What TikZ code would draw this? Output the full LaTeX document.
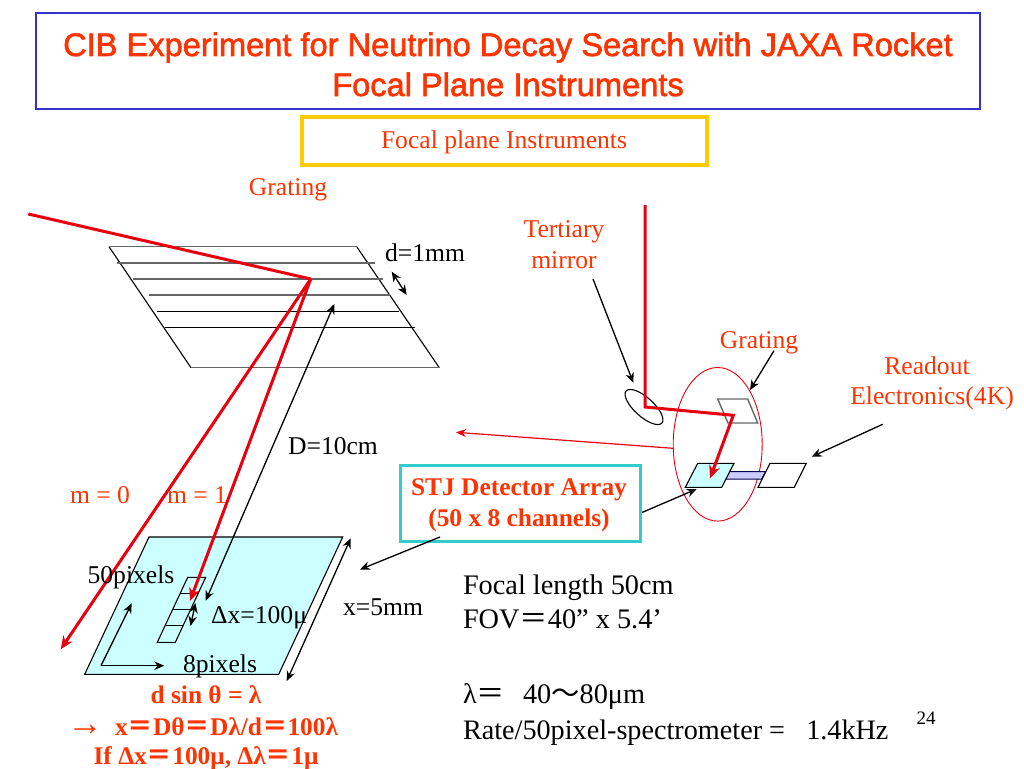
\documentclass[tikz,border=0pt]{standalone}
\usepackage{fontspec}
\setmainfont{Liberation Serif}
\newfontfamily\titlefont[FakeBold=1.8]{Liberation Sans}
\newfontfamily\cjk{Noto Sans CJK JP}
\usetikzlibrary{arrows.meta}
\definecolor{txtred}{HTML}{FF3300}
\definecolor{beam}{HTML}{E8000F}
\definecolor{paleCyan}{HTML}{CCFFFF}
\definecolor{paleBlue}{HTML}{CCCCFF}
\definecolor{titleBlue}{HTML}{3333CC}
\definecolor{gold}{HTML}{FFCC00}
\definecolor{tealbox}{HTML}{33CCCC}
\definecolor{rulegray}{HTML}{666666}
\newcommand{\fw}[1]{{\cjk #1}}
\tikzset{
  x=1pt,y=-1pt,
  lbl/.style={inner sep=0pt,outer sep=0pt,anchor=base,font=\fontsize{25.6}{25.6}\selectfont,align=center},
  lblw/.style={lbl,anchor=base west},
  redlbl/.style={lbl,text=txtred},
  boldred/.style={lbl,text=txtred,font=\fontsize{25.4}{25.4}\selectfont\bfseries},
  titletext/.style={lbl,text=txtred,font=\fontsize{32.6}{32.6}\titlefont},
  thin line/.style={draw=black,line width=1.1pt},
  gray line/.style={draw=rulegray,line width=1.4pt},
  beamline/.style={draw=beam,line width=3pt,line join=miter},
  beamarrow/.style={beamline,-{Stealth[length=13pt,width=11pt]}},
  blackarrow/.style={draw=black,line width=1.3pt,-{Stealth[length=10pt,width=8.5pt]}},
  blackdouble/.style={draw=black,line width=1.3pt,{Stealth[length=10pt,width=8.5pt]}-{Stealth[length=10pt,width=8.5pt]}},
}
\begin{document}
\begin{tikzpicture}
\useasboundingbox (0,0) rectangle (1024,768);
\fill[white] (0,0) rectangle (1024,768);

% header boxes
\draw[draw=titleBlue,line width=2.8pt] (36,13) rectangle (980,109);
\node[titletext] (title1) at (508,56) {CIB Experiment for Neutrino Decay Search with JAXA Rocket};
\node[titletext] (title2) at (508,96) {Focal Plane Instruments};
\draw[draw=gold,line width=4.5pt] (302,117) rectangle (707,165);
\node[redlbl] (fpi) at (504,148) {Focal plane Instruments};

% large grating
\coordinate (gTL) at (109,246.7);
\coordinate (gTR) at (356.7,246.7);
\coordinate (gBR) at (439.3,367.7);
\coordinate (gBL) at (191,367.7);
\draw[thin line] (gTL) -- (gBL);
\draw[thin line] (gTR) -- (gBR);
\draw[gray line] (gTL) -- (gTR);
\draw[gray line] (gBL) -- (gBR);
\draw[gray line] (116.7,263) -- (375,263);
\draw[gray line] (133,279) -- (382.7,279);
\draw[gray line] (149,295) -- (390,295);
\draw[thin line] (156.7,311.3) -- (399,311.3);
\draw[thin line] (165,327.3) -- (415,327.3);

% detector plane
\coordinate (pTL) at (149,537);
\coordinate (pTR) at (342.7,537);
\coordinate (pBR) at (278.7,674.3);
\coordinate (pBL) at (84.7,674.3);
\draw[thin line,fill=paleCyan] (pTL) -- (pTR) -- (pBR) -- (pBL) -- cycle;

% pixels
\draw[thin line] (187.7,577.3) -- (205.7,577.3) -- (175.3,642.3) -- (157.3,642.3) -- cycle;
\draw[thin line] (180,593.3) -- (198.3,593.3);
\draw[thin line] (172.7,609.3) -- (191,609.3);
\draw[thin line] (165.7,625.7) -- (183.3,625.7);

% beams
\coordinate (inA) at (28.3,214);
\coordinate (hit) at (310.7,279);
\coordinate (m0end) at (60.7,649.3);
\coordinate (m1end) at (190,601);
\draw[beamline] (inA) -- (hit);
\draw[beamarrow] (hit) -- (m0end);
\draw[beamarrow] (hit) -- (m1end);

% dimension arrows
\coordinate (dA) at (391.7,271.7);
\coordinate (dB) at (406.7,295);
\draw[blackdouble] (dA) -- (dB);
\coordinate (DA) at (334.3,304);
\coordinate (DB) at (205.7,600.7);
\draw[blackdouble] (DA) -- (DB);
\coordinate (xA) at (350.7,538.3);
\coordinate (xB) at (286.7,681);
\draw[blackdouble] (xA) -- (xB);
\coordinate (dxA) at (195.5,603);
\coordinate (dxB) at (190.5,626);
\draw[blackdouble] (dxA) -- (dxB);
\coordinate (cor) at (101,665.7);
\coordinate (upEnd) at (131.7,603.3);
\coordinate (rtEnd) at (164.3,665.7);
\draw[blackarrow] (cor) -- (upEnd);
\draw[blackarrow] (cor) -- (rtEnd);

% left labels
\node[redlbl] (lgrating) at (288,195) {Grating};
\node[lbl] (ld) at (425,261) {d=1mm};
\node[lbl] (lD) at (333,454) {D=10cm};
\node[redlbl] (lm0) at (100,503) {m = 0};
\node[redlbl] (lm1) at (197,503) {m = 1};
\node[lbl] (l50) at (131,583) {50pixels};
\node[lbl] (ldx) at (257,623) {$\,$Δx=100μ};
\node[lbl] (l8) at (220,672) {8pixels};
\node[lbl] (lx) at (383,615) {x=5mm};
\node[boldred] (e1) at (206,703) {d sin θ = λ};
\node[boldred,anchor=base west] (e2) at (67,735) {{\mdseries\fontsize{36}{36}\selectfont →}\hspace{12pt}x\fw{＝}Dθ\fw{＝}Dλ/d\fw{＝}100λ};
\node[boldred] (e3) at (206,764) {If Δx\fw{＝}100μ, Δλ\fw{＝}1μ};

% STJ box
\node[draw=tealbox,line width=2.8pt,minimum width=240pt,minimum height=76pt,inner sep=0pt,anchor=north west] (stj) at (399,464) {};
\node[boldred] (stj1) at (519,495) {STJ Detector Array};
\node[boldred] (stj2) at (519,526) {(50 x 8 channels)};
\coordinate (planeTip) at (360,569.5);
\draw[blackarrow] (440,537) -- (planeTip);

% right optics
\coordinate (mirror) at (644,407);
\draw[thin line] (mirror) ellipse [x radius=24,y radius=9.5,rotate=-42];
\draw[draw=beam,line width=0.9pt] (717.7,444.3) ellipse [x radius=44.5,y radius=76.8];
\coordinate (wideL) at (673.3,448.3);
\coordinate (wideTip) at (456,432.3);
\draw[draw=beam,line width=1.2pt,-{Stealth[length=10pt,width=8pt]}] (wideL) -- (wideTip);

\draw[draw=rulegray,line width=1.4pt] (717.7,399) -- (747.7,399) -- (757.7,423) -- (728,423) -- cycle;
\draw[draw=black!70!blue,line width=1pt,fill=paleBlue] (728.3,471.7) -- (765.7,471.7) -- (761.7,479) -- (726,479) -- cycle;
\draw[thin line,fill=paleCyan] (697.7,463.3) -- (734,463.3) -- (721.7,487.3) -- (685.3,487.3) -- cycle;
\draw[thin line,fill=white] (770,463.3) -- (806.3,463.3) -- (794.3,487.3) -- (758,487.3) -- cycle;

\coordinate (rTop) at (645,205);
\coordinate (rMir) at (645,407);
\coordinate (rGrat) at (733.3,415.3);
\coordinate (rDet) at (710,478.5);
\draw[beamarrow] (rTop) -- (rMir) -- (rGrat) -- (rDet);

\coordinate (tS) at (593,279);
\coordinate (tE) at (633.3,382.7);
\draw[blackarrow] (tS) -- (tE);
\coordinate (grS) at (774,350.7);
\coordinate (grE) at (750,390);
\draw[blackarrow] (grS) -- (grE);
\coordinate (roS) at (882.7,424.3);
\coordinate (roE) at (811.7,456.7);
\draw[blackarrow] (roS) -- (roE);
\coordinate (stjTip) at (696.7,489);
\draw[blackarrow] (642,512.5) -- (stjTip);

% right labels
\node[redlbl] (ltert1) at (564,237) {Tertiary};
\node[redlbl] (ltert2) at (564,268) {mirror};
\node[redlbl] (lgr2) at (759,348) {Grating};
\node[redlbl] (lro1) at (927,374) {Readout};
\node[redlbl] (lro2) at (932,404) {Electronics(4K)};

% notes
\node[lblw,font=\fontsize{28.3}{28.3}\selectfont] (n1) at (463,594) {Focal length 50cm};
\node[lblw,font=\fontsize{28.3}{28.3}\selectfont] (n2) at (463,628) {FOV\fw{＝}40” x 5.4’};
\node[lblw,font=\fontsize{28.3}{28.3}\selectfont] (n3) at (463,703) {λ\fw{＝}\hspace{18pt}40\fw{～}80μm};
\node[lblw,font=\fontsize{28.2}{28.2}\selectfont] (n4) at (463,739) {Rate/50pixel-spectrometer =\ \ \ 1.4kHz};
\node[lbl,font=\fontsize{19}{19}\selectfont] (pg) at (926,724) {24};
\end{tikzpicture}
\end{document}
